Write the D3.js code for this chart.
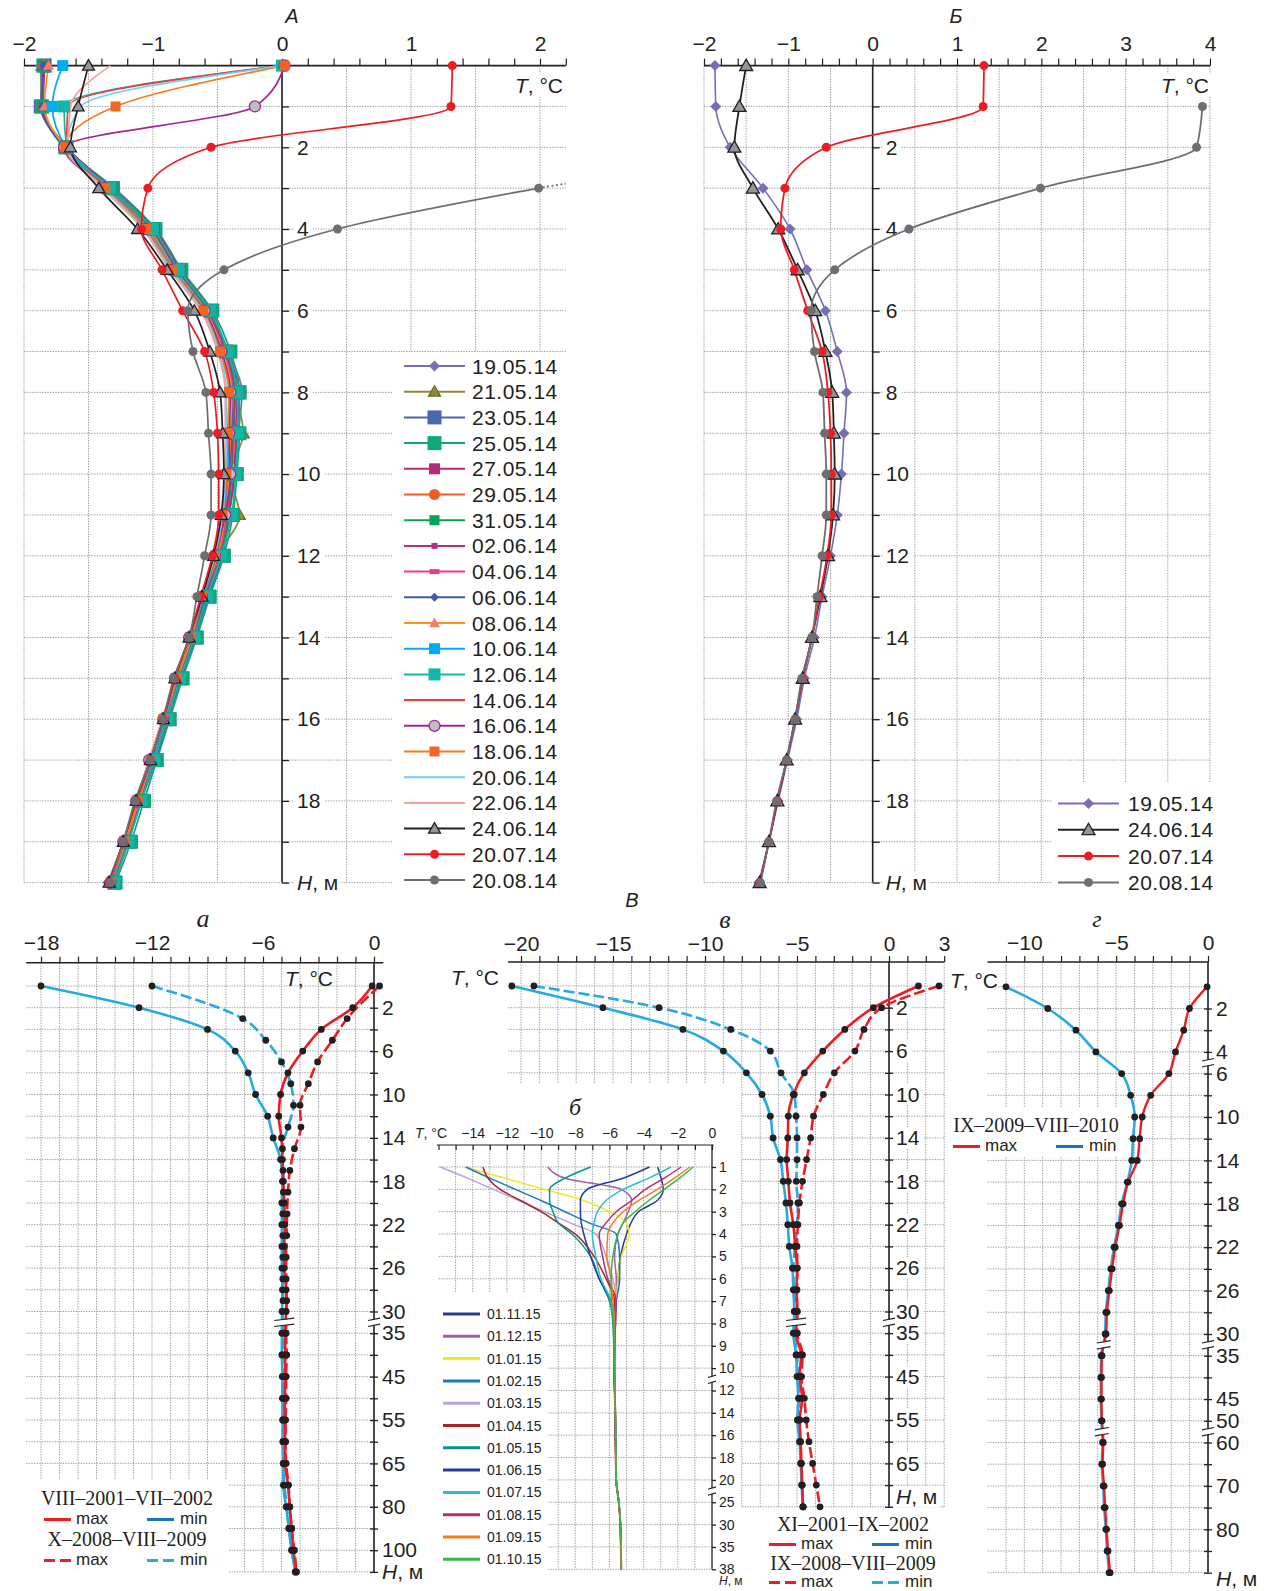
<!DOCTYPE html>
<html>
<head>
<meta charset="utf-8">
<title>Temperature profiles</title>
<script src="https://cdn.jsdelivr.net/npm/d3@7"></script>
<style>
  html, body { margin: 0; padding: 0; background: #fff; }
  svg { display: block; }
</style>
</head>
<body>
<svg id="chart" width="1267" height="1591"></svg>
<script>
'use strict';

// ================= data =================

// --- A / Б : 2014 profiles, depth 0..20 m ---
var DEPTH_A = [0, 1, 2, 3, 4, 5, 6, 7, 8, 9, 10, 11, 12, 13, 14, 15, 16, 17, 18, 19, 20];
var DATES_A = ['19.05.14', '21.05.14', '23.05.14', '25.05.14', '27.05.14', '29.05.14', '31.05.14',
  '02.06.14', '04.06.14', '06.06.14', '08.06.14', '10.06.14', '12.06.14', '14.06.14', '16.06.14',
  '18.06.14', '20.06.14', '22.06.14', '24.06.14', '20.07.14', '20.08.14'];

var T_190514 = [-1.87, -1.86, -1.69, -1.30, -0.98, -0.78, -0.56, -0.42, -0.31, -0.34, -0.37, -0.42, -0.50, -0.60, -0.69, -0.81, -0.90, -1.01, -1.12, -1.23, -1.35];
var T_210514 = [-1.86, -1.87, -1.68, -1.33, -1.00, -0.80, -0.56, -0.43, -0.36, -0.30, -0.40, -0.33, -0.50, -0.59, -0.69, -0.80, -0.89, -0.99, -1.10, -1.20, -1.31];
var T_230514 = [-1.84, -1.87, -1.67, -1.32, -0.99, -0.80, -0.55, -0.43, -0.33, -0.35, -0.37, -0.41, -0.46, -0.57, -0.67, -0.78, -0.88, -0.98, -1.09, -1.19, -1.30];
var T_250514 = [-1.85, -1.86, -1.68, -1.31, -0.98, -0.78, -0.54, -0.40, -0.33, -0.33, -0.35, -0.38, -0.45, -0.56, -0.66, -0.77, -0.87, -0.97, -1.07, -1.17, -1.29];
var T_270514 = [-1.84, -1.85, -1.67, -1.32, -0.99, -0.79, -0.56, -0.42, -0.35, -0.36, -0.37, -0.41, -0.47, -0.58, -0.68, -0.80, -0.89, -0.99, -1.10, -1.20, -1.31];
var T_290514 = [-1.85, -1.86, -1.68, -1.33, -1.01, -0.80, -0.57, -0.44, -0.37, -0.37, -0.39, -0.42, -0.48, -0.59, -0.69, -0.80, -0.90, -1.00, -1.11, -1.21, -1.31];
var T_310514 = [-1.86, -1.86, -1.68, -1.32, -1.00, -0.81, -0.56, -0.43, -0.36, -0.38, -0.39, -0.42, -0.48, -0.58, -0.68, -0.79, -0.89, -0.99, -1.10, -1.20, -1.30];
var T_020614 = [-1.85, -1.86, -1.68, -1.33, -1.01, -0.81, -0.57, -0.44, -0.37, -0.38, -0.40, -0.43, -0.49, -0.59, -0.69, -0.80, -0.90, -1.00, -1.10, -1.20, -1.31];
var T_040614 = [-1.86, -1.85, -1.68, -1.34, -1.02, -0.82, -0.58, -0.45, -0.38, -0.39, -0.40, -0.43, -0.49, -0.60, -0.70, -0.81, -0.90, -1.00, -1.11, -1.21, -1.32];
var T_060614 = [-1.85, -1.86, -1.69, -1.34, -1.02, -0.82, -0.58, -0.46, -0.39, -0.39, -0.41, -0.44, -0.50, -0.60, -0.70, -0.81, -0.91, -1.01, -1.11, -1.21, -1.32];
var T_080614 = [-1.81, -1.84, -1.68, -1.35, -1.03, -0.83, -0.59, -0.46, -0.39, -0.40, -0.41, -0.44, -0.50, -0.61, -0.70, -0.81, -0.91, -1.01, -1.11, -1.21, -1.32];
var T_100614 = [-1.70, -1.78, -1.67, -1.35, -1.04, -0.84, -0.60, -0.47, -0.40, -0.41, -0.42, -0.45, -0.51, -0.61, -0.71, -0.82, -0.91, -1.01, -1.12, -1.22, -1.32];
var T_120614 = [0.00, -1.69, -1.67, -1.33, -1.00, -0.80, -0.56, -0.42, -0.35, -0.34, -0.36, -0.39, -0.47, -0.58, -0.68, -0.79, -0.89, -0.99, -1.09, -1.19, -1.30];
var T_140614 = [0.00, -1.66, -1.67, -1.36, -1.05, -0.85, -0.61, -0.48, -0.41, -0.42, -0.43, -0.45, -0.51, -0.62, -0.71, -0.82, -0.92, -1.02, -1.12, -1.22, -1.33];
var T_160614 = [0.02, -0.21, -1.69, -1.38, -1.06, -0.86, -0.60, -0.47, -0.40, -0.41, -0.40, -0.44, -0.52, -0.62, -0.72, -0.83, -0.92, -1.03, -1.13, -1.23, -1.33];
var T_180614 = [0.02, -1.29, -1.68, -1.37, -1.05, -0.85, -0.61, -0.48, -0.41, -0.42, -0.43, -0.46, -0.52, -0.62, -0.71, -0.82, -0.92, -1.02, -1.12, -1.22, -1.33];
var T_200614 = [0.00, -1.56, -1.67, -1.38, -1.07, -0.86, -0.62, -0.49, -0.43, -0.43, -0.44, -0.46, -0.52, -0.62, -0.72, -0.83, -0.92, -1.03, -1.13, -1.23, -1.33];
var T_220614 = [-1.33, -1.64, -1.66, -1.39, -1.08, -0.87, -0.63, -0.50, -0.44, -0.44, -0.45, -0.47, -0.53, -0.62, -0.72, -0.83, -0.93, -1.03, -1.13, -1.23, -1.34];
var T_240614 = [-1.50, -1.58, -1.64, -1.42, -1.12, -0.89, -0.68, -0.56, -0.48, -0.46, -0.45, -0.47, -0.53, -0.62, -0.72, -0.83, -0.92, -1.02, -1.13, -1.23, -1.34];
var T_200714 = [1.32, 1.31, -0.55, -1.04, -1.09, -0.93, -0.77, -0.60, -0.53, -0.50, -0.49, -0.49, -0.54, -0.63, -0.72, -0.83, -0.92, -1.02, -1.13, -1.23, -1.34];
var T_200814 = [null, 3.91, 3.84, 1.99, 0.43, -0.45, -0.73, -0.69, -0.59, -0.57, -0.55, -0.55, -0.60, -0.66, -0.72, -0.84, -0.92, -1.02, -1.14, -1.23, -1.33];

var TEMPS_A = [T_190514, T_210514, T_230514, T_250514, T_270514, T_290514, T_310514,
  T_020614, T_040614, T_060614, T_080614, T_100614, T_120614, T_140614, T_160614,
  T_180614, T_200614, T_220614, T_240614, T_200714, T_200814];
var DATES_B = ['19.05.14', '24.06.14', '20.07.14', '20.08.14'];
var TEMPS_B = [T_190514, T_240614, T_200714, T_200814];

var LABELS_TA = [-2, -1, 0, 1, 2];
var LABELS_TB = [-2, -1, 0, 1, 2, 3, 4];
var LABELS_DEPTH_A = [2, 4, 6, 8, 10, 12, 14, 16, 18];

// --- а : VIII-2001–VII-2002 (solid) and X-2008–VIII-2009 (dashed) ---
var ROWS_PA = [0, 2, 4, 6, 8, 10, 12, 14, 16, 18, 20, 22, 24, 26, 28, 30, 35, 40, 45, 50, 55, 60, 65, 70, 80, 90, 100, 110];
var LABELS_DEPTH_PA = [2, 6, 10, 14, 18, 22, 26, 30, 35, 45, 55, 65, 80, 100];
var LABELS_T_PA = [-18, -12, -6, 0];
var DEPTH_PA_1 = [0, 2, 4, 6, 8, 10, 12, 14, 16, 18, 20, 22, 24, 26, 28, 30, 35, 40, 45, 50, 55, 60, 65, 70, 80, 90, 100, 110];
var PA_MAX_1 = [-0.1, -1.15, -2.85, -3.85, -4.65, -5.05, -5.15, -5.0, -4.95, -4.9, -4.85, -4.82, -4.85, -4.85, -4.75, -4.75, -4.8, -4.8, -4.8, -4.82, -4.82, -4.8, -4.8, -4.65, -4.55, -4.45, -4.35, -4.2];
var PA_MIN_1 = [-18.0, -12.7, -9.0, -7.5, -6.8, -6.4, -5.75, -5.45, -5.05, -4.95, -4.98, -4.98, -4.98, -4.98, -4.95, -4.97, -4.98, -4.98, -4.95, -4.95, -4.93, -4.92, -4.9, -4.9, -4.75, -4.6, -4.45, -4.25];
var DEPTH_PA_2 = [0, 3, 5, 7, 9, 11, 13, 15, 17, 19, 21, 23, 25, 27, 29, 35, 40, 45, 50, 55, 60, 65, 70, 80, 90, 100, 110];
var PA_MAX_2 = [0.3, -1.45, -2.25, -3.05, -3.55, -4.0, -3.95, -4.3, -4.55, -4.65, -4.7, -4.72, -4.75, -4.75, -4.72, -4.75, -4.72, -4.75, -4.75, -4.78, -4.78, -4.75, -4.62, -4.55, -4.45, -4.3, -4.2];
var PA_MIN_2 = [-12.0, -7.1, -5.85, -5.0, -4.5, -4.35, -4.65, -4.95, -4.92, -4.9, -4.93, -4.93, -4.93, -4.93, -4.92, -4.92, -4.95, -4.95, -4.93, -4.93, -4.92, -4.9, -4.85, -4.7, -4.6, -4.45, -4.25];

// --- в : XI-2001–IX-2002 (solid) and IX-2008–VIII-2009 (dashed) ---
var ROWS_PV = [0, 2, 4, 6, 8, 10, 12, 14, 16, 18, 20, 22, 24, 26, 28, 30, 35, 40, 45, 50, 55, 60, 65, 70, 75];
var LABELS_DEPTH_PV = [2, 6, 10, 14, 18, 22, 26, 30, 35, 45, 55, 65];
var LABELS_T_PV = [-20, -15, -10, -5, 0, 3];
var DEPTH_PV = [0, 2, 4, 6, 8, 10, 12, 14, 16, 18, 20, 22, 24, 26, 28, 30, 35, 40, 45, 50, 55, 60, 65, 70, 75];
var PV_MAX_1 = [1.6, -0.85, -2.4, -3.6, -4.6, -5.2, -5.47, -5.5, -5.56, -5.47, -5.38, -5.2, -5.1, -5.0, -5.02, -4.98, -5.05, -4.78, -4.85, -4.72, -4.85, -4.8, -4.76, -4.72, -4.68];
var PV_MIN_1 = [-20.5, -15.55, -11.2, -9.0, -7.75, -6.9, -6.45, -6.3, -5.9, -5.75, -5.6, -5.5, -5.42, -5.25, -5.2, -5.15, -5.2, -5.05, -5.0, -4.92, -4.98, -4.86, -4.8, -4.75, -4.68];
var PV_MAX_2 = [2.72, -0.4, -1.36, -1.85, -2.97, -3.57, -4.1, -4.26, -4.48, -4.7, -4.87, -4.95, -5.0, -4.98, -5.0, -5.0, -4.98, -4.7, -4.75, -4.6, -4.5, -4.35, -4.15, -3.95, -3.75];
var PV_MIN_2 = [-19.3, -12.5, -8.6, -6.45, -5.87, -5.15, -5.05, -5.0, -5.0, -5.04, -4.95, -5.0, -5.1, -5.2, -5.15, -5.1, -5.12, -5.0, -4.95, -4.88, -4.92, -4.84, -4.78, -4.72, -4.66];

// --- г : IX-2009–VIII-2010 ---
var ROWS_PG = [1, 2, 3, 4, 6, 8, 10, 12, 14, 16, 18, 20, 22, 24, 26, 28, 30, 35, 40, 45, 50, 60, 65, 70, 75, 80, 85, 90];
var LABELS_DEPTH_PG = [2, 4, 6, 10, 14, 18, 22, 26, 30, 35, 45, 50, 60, 70, 80];
var LABELS_T_PG = [-10, -5, 0];
var DEPTH_PG = [1, 2, 3, 4, 6, 8, 10, 12, 14, 16, 18, 20, 22, 24, 26, 28, 30, 35, 40, 45, 50, 60, 65, 70, 75, 80, 85, 90];
var PG_MIN = [-11.0, -8.72, -7.19, -6.1, -4.7, -4.21, -3.99, -4.08, -4.15, -4.39, -4.7, -4.88, -5.11, -5.29, -5.43, -5.56, -5.6, -5.81, -5.83, -5.83, -5.8, -5.74, -5.78, -5.7, -5.65, -5.56, -5.49, -5.38];
var PG_MAX = [-0.05, -1.01, -1.32, -1.77, -2.13, -3.12, -3.58, -3.72, -3.85, -4.35, -4.62, -4.82, -5.05, -5.22, -5.37, -5.5, -5.55, -5.77, -5.8, -5.8, -5.77, -5.7, -5.74, -5.66, -5.6, -5.52, -5.44, -5.33];

// --- б : monthly profiles 2014-15 ---
var ROWS_PB = [1, 2, 3, 4, 5, 6, 7, 8, 9, 10, 12, 14, 16, 18, 20, 25, 30, 35, 38];
var LABELS_T_PB = [-14, -12, -10, -8, -6, -4, -2, 0];
var DATES_PB = ['01.11.15', '01.12.15', '01.01.15', '01.02.15', '01.03.15', '01.04.15',
  '01.05.15', '01.06.15', '01.07.15', '01.08.15', '01.09.15', '01.10.15'];
var DEPTH_PB = [1, 1.5, 2, 2.5, 3, 3.5, 4, 5, 6, 7, 8, 10, 14, 20, 25, 30, 38];
var B_1115 = [-3.18, -2.98, -2.85, -3.2, -4.3, -4.74, -5.0, -5.35, -5.5, -5.6, -5.65, -5.7, -5.65, -5.6, -5.45, -5.35, -5.3];
var B_1215 = [-9.6, -8.6, -5.3, -4.7, -4.9, -5.2, -5.5, -5.7, -5.6, -5.6, -5.65, -5.72, -5.66, -5.6, -5.45, -5.35, -5.32];
var B_0115 = [-14.5, -12.1, -9.8, -7.5, -6.0, -5.0, -4.85, -5.3, -5.5, -5.6, -5.65, -5.7, -5.65, -5.62, -5.45, -5.38, -5.33];
var B_0215 = [-14.4, -13.0, -11.5, -10.0, -8.6, -7.2, -5.6, -5.4, -5.4, -5.6, -5.7, -5.72, -5.66, -5.6, -5.45, -5.35, -5.32];
var B_0315 = [-15.9, -14.3, -12.8, -11.3, -9.8, -8.3, -6.8, -6.2, -5.8, -5.6, -5.65, -5.7, -5.65, -5.6, -5.45, -5.36, -5.32];
var B_0415 = [-13.4, -13.1, -12.4, -11.2, -10.0, -9.0, -8.0, -6.9, -6.2, -5.7, -5.7, -5.72, -5.68, -5.62, -5.47, -5.37, -5.33];
var B_0515 = [-7.1, -8.6, -9.5, -9.5, -9.3, -9.0, -8.2, -7.1, -6.6, -6.0, -5.8, -5.72, -5.66, -5.6, -5.45, -5.36, -5.32];
var B_0615 = [-3.66, -5.2, -7.3, -7.7, -7.7, -7.65, -7.5, -7.1, -6.6, -5.9, -5.7, -5.7, -5.66, -5.6, -5.45, -5.36, -5.32];
var B_0715 = [-2.4, -3.7, -5.2, -6.2, -6.7, -6.9, -7.0, -6.8, -6.5, -5.9, -5.7, -5.7, -5.65, -5.6, -5.44, -5.35, -5.3];
var B_0815 = [-1.8, -2.8, -3.9, -4.7, -5.6, -6.2, -6.6, -6.4, -6.1, -5.6, -5.65, -5.72, -5.66, -5.6, -5.45, -5.36, -5.32];
var B_0915 = [-1.3, -2.2, -3.2, -4.3, -5.2, -5.8, -6.1, -6.15, -5.9, -5.8, -5.7, -5.7, -5.66, -5.6, -5.45, -5.36, -5.32];
var B_1015 = [-1.1, -1.9, -2.8, -3.7, -4.5, -5.2, -5.5, -5.8, -5.9, -5.9, -5.75, -5.7, -5.65, -5.6, -5.45, -5.35, -5.3];
var TEMPS_PB = [B_1115, B_1215, B_0115, B_0215, B_0315, B_0415, B_0515, B_0615, B_0715, B_0815, B_0915, B_1015];

// ================= styles =================
var INK = '#231f20';
var SANS = '"Liberation Sans", Arial, Helvetica, sans-serif';
var SERIF = '"Liberation Serif", "Times New Roman", serif';
var GRID = '#9fa1a4';
var RED = '#ed1c24';
var BLUE = '#27a9e1';
var BLUE_DARK = '#1b75bc';

var STYLE_A = [
  {line: '#7470b3', mark: 'diamond', size: 11, fill: '#7470b3'},
  {line: '#8f8b35', mark: 'triangle', size: 12, fill: '#8f8b3a', edge: '#6b6a2c'},
  {line: '#4c66ae', mark: 'square', size: 14, fill: '#4c66ae'},
  {line: '#10a77c', mark: 'square', size: 14, fill: '#10a77c'},
  {line: '#b8297a', mark: 'square', size: 11, fill: '#b8297a'},
  {line: '#f15a2b', mark: 'circle', size: 11, fill: '#f15a2b'},
  {line: '#00a651', mark: 'square', size: 10, fill: '#00a651'},
  {line: '#b2307e', mark: 'square', size: 6, fill: '#b2307e'},
  {line: '#ee3b8e', mark: 'rect', size: 10, fill: '#ee3b8e'},
  {line: '#3f5caa', mark: 'diamond', size: 9, fill: '#3f5caa'},
  {line: '#f7941d', mark: 'triangle', size: 11, fill: '#f47c6a'},
  {line: '#00aeef', mark: 'square', size: 11, fill: '#00aeef'},
  {line: '#12b5a6', mark: 'square', size: 12, fill: '#12b5a6'},
  {line: '#ef3b36', mark: null},
  {line: '#a4268f', mark: 'circle', size: 11, fill: '#bcbec0', edge: '#a4268f'},
  {line: '#f47b20', mark: 'square', size: 10, fill: '#f26522'},
  {line: '#72cdf4', mark: null},
  {line: '#f4a0a0', mark: null},
  {line: '#231f20', mark: 'triangle', size: 12, fill: '#939598', edge: '#231f20'},
  {line: '#ed1c24', mark: 'circle', size: 9, fill: '#ed1c24'},
  {line: '#6d6e71', mark: 'circle', size: 9, fill: '#6d6e71'}
];
var STYLE_B = [STYLE_A[0], STYLE_A[18], STYLE_A[19], STYLE_A[20]];
var COLORS_PB = ['#2b3990', '#a45fa8', '#f4e81a', '#1f78c1', '#b6a4d8', '#a6262b',
  '#00968f', '#283c97', '#2bbcd4', '#b12f77', '#f47b20', '#39b54a'];

// ================= scales =================
function rowScale(domain, rows, top, step) {
  return d3.scaleLinear().domain(domain).range(rows.map(function(r) { return top + r * step; }));
}

var xA = d3.scaleLinear().domain([-2, 2]).range([24, 540]);
var yA = d3.scaleLinear().domain([0, 20]).range([65.6, 882.6]);
var xB = d3.scaleLinear().domain([-2, 4]).range([704, 1210]);
var yB = yA;

var xPa = d3.scaleLinear().domain([-18, 0]).range([41, 374]);
var yPa = rowScale([0, 30, 35, 70, 110], [0, 15, 16, 23, 27], 986, 21.7);
var xPv = d3.scaleLinear().domain([-20, 0]).range([521, 889]);
var yPv = rowScale([0, 30, 35, 75], [0, 15, 16, 24], 986, 21.7);
var xPg = d3.scaleLinear().domain([-10, 0]).range([1024.3, 1208]);
var yPg = rowScale([1, 4, 6, 30, 35, 50, 60, 90], [0, 3, 4, 16, 17, 20, 21, 27], 986.8, 21.7);
var xPb = d3.scaleLinear().domain([-14, 0]).range([472.7, 712]);
var yPb = rowScale([1, 10, 20, 35, 38], [0, 9, 14, 17, 18], 1167, 22.35);

var svg = d3.select('#chart');

// ================= helpers =================
function fmtT(d) {
  var r = Math.round(d);
  return (r < 0 ? '\u2212' : '') + Math.abs(r);
}

function drawGrid(xs, ys, vx, vy, px0, px1, py0, py1) {
  var g = svg.append('g')
    .attr('stroke', GRID)
    .attr('stroke-width', 1)
    .attr('stroke-dasharray', '1.4,1.2');
  g.selectAll('.gv').data(vx).enter().append('line')
    .attr('x1', function(d) { return xs(d); })
    .attr('x2', function(d) { return xs(d); })
    .attr('y1', py0).attr('y2', py1);
  g.selectAll('.gh').data(vy).enter().append('line')
    .attr('y1', function(d) { return ys(d); })
    .attr('y2', function(d) { return ys(d); })
    .attr('x1', px0).attr('x2', px1);
}

function whiteBox(x, y, w, h) {
  svg.append('rect').attr('x', x).attr('y', y).attr('width', w).attr('height', h).attr('fill', '#fff');
}

function tAxis(xs, y, ticks, labels, ext, opt) {
  var ax = (opt.down ? d3.axisBottom(xs) : d3.axisTop(xs))
    .tickValues(ticks).tickSize(opt.len).tickSizeOuter(0).tickFormat('');
  var g = svg.append('g').attr('transform', 'translate(0,' + y + ')').call(ax);
  g.select('.domain').remove();
  g.selectAll('line').attr('stroke', INK).attr('stroke-width', 1.2);
  g.append('line').attr('x1', ext[0]).attr('x2', ext[1])
    .attr('stroke', INK).attr('stroke-width', opt.lw || 1.6);

  var lab = d3.axisTop(xs).tickValues(labels).tickSize(0).tickPadding(opt.pad).tickFormat(fmtT);
  var gl = svg.append('g').attr('transform', 'translate(0,' + y + ')').call(lab);
  gl.select('.domain').remove();
  gl.attr('font-size', opt.fs).attr('font-family', SANS);
  gl.selectAll('text').attr('fill', INK);
}

function depthAxis(x, ys, ticks, labels, yExt, opt) {
  svg.append('line').attr('x1', x).attr('x2', x).attr('y1', yExt[0]).attr('y2', yExt[1])
    .attr('stroke', INK).attr('stroke-width', opt.lw || 1.6);
  var gr = svg.append('g').attr('transform', 'translate(' + x + ',0)')
    .call(d3.axisRight(ys).tickValues(ticks).tickSize(opt.len).tickSizeOuter(0).tickFormat(''));
  gr.select('.domain').remove();
  gr.selectAll('line').attr('stroke', INK).attr('stroke-width', 1.3);
  if (opt.both) {
    var gL = svg.append('g').attr('transform', 'translate(' + x + ',0)')
      .call(d3.axisLeft(ys).tickValues(ticks).tickSize(opt.len).tickSizeOuter(0).tickFormat(''));
    gL.select('.domain').remove();
    gL.selectAll('line').attr('stroke', INK).attr('stroke-width', 1.3);
  }
  var gl = svg.append('g').attr('transform', 'translate(' + x + ',0)')
    .call(d3.axisRight(ys).tickValues(labels).tickSize(0).tickPadding(opt.pad)
      .tickFormat(function(d) { return d; }));
  gl.select('.domain').remove();
  gl.attr('font-size', opt.fs).attr('font-family', SANS);
  gl.selectAll('text').attr('fill', INK);
  gl.selectAll('.tick').each(function() {
    var b = d3.select(this).select('text').node().getBBox();
    d3.select(this).insert('rect', 'text')
      .attr('x', b.x - 3).attr('y', b.y + 1).attr('width', b.width + 7).attr('height', b.height - 2)
      .attr('fill', '#fff');
  });
  var h = svg.append('text').attr('x', x + opt.pad).attr('y', opt.hy).attr('dy', '0.35em')
    .attr('font-size', opt.hfs || opt.fs).attr('font-family', SANS).attr('fill', INK);
  h.append('tspan').attr('font-style', 'italic').text('H');
  h.append('tspan').text(', м');
  var hb = h.node().getBBox();
  svg.insert('rect', function() { return h.node(); })
    .attr('x', hb.x - 3).attr('y', hb.y + 1).attr('width', hb.width + 6).attr('height', hb.height - 2)
    .attr('fill', '#fff');
}

function tLabel(x, y, fs, bg) {
  var t = svg.append('text').attr('x', x).attr('y', y).attr('text-anchor', 'end')
    .attr('font-size', fs).attr('font-family', SANS).attr('fill', INK);
  t.append('tspan').attr('font-style', 'italic').text('T');
  t.append('tspan').text(', °C');
  if (bg) {
    var b = t.node().getBBox();
    svg.insert('rect', function() { return t.node(); })
      .attr('x', b.x - 3).attr('y', b.y).attr('width', b.width + 6).attr('height', b.height)
      .attr('fill', '#fff');
  }
}

function title(x, y, s, fs, font) {
  svg.append('text').attr('x', x).attr('y', y).attr('text-anchor', 'middle')
    .attr('font-size', fs).attr('font-family', font).attr('font-style', 'italic')
    .attr('fill', INK).text(s);
}

function points(depths, temps) {
  var pts = [];
  depths.forEach(function(d, i) {
    if (temps[i] !== null) pts.push([temps[i], d]);
  });
  return pts;
}

function profile(g, xs, ys, pts, color, width, dash) {
  g.append('path')
    .datum(pts)
    .attr('d', d3.line()
      .x(function(p) { return xs(p[0]); })
      .y(function(p) { return ys(p[1]); })
      .curve(d3.curveMonotoneY))
    .attr('fill', 'none')
    .attr('stroke', color)
    .attr('stroke-width', width)
    .attr('stroke-linejoin', 'round')
    .attr('stroke-dasharray', dash || null);
}

function marker(g, type, x, y, size, fill, edge) {
  var h = size / 2, el;
  if (type === 'circle') {
    el = g.append('circle').attr('cx', x).attr('cy', y).attr('r', h);
  } else if (type === 'square') {
    el = g.append('rect').attr('x', x - h).attr('y', y - h).attr('width', size).attr('height', size);
  } else if (type === 'rect') {
    el = g.append('rect').attr('x', x - h).attr('y', y - h * 0.5).attr('width', size).attr('height', size * 0.5);
  } else if (type === 'diamond') {
    el = g.append('path').attr('d', 'M' + x + ',' + (y - h) + 'L' + (x + h) + ',' + y +
      'L' + x + ',' + (y + h) + 'L' + (x - h) + ',' + y + 'Z');
  } else if (type === 'triangle') {
    el = g.append('path').attr('d', 'M' + x + ',' + (y - h) + 'L' + (x + h) + ',' + (y + h * 0.75) +
      'L' + (x - h) + ',' + (y + h * 0.75) + 'Z');
  } else {
    return;
  }
  el.attr('fill', fill).attr('stroke', edge || 'none').attr('stroke-width', edge ? 1.3 : 0);
}

function dots(g, xs, ys, pts) {
  pts.forEach(function(p) {
    g.append('circle').attr('cx', xs(p[0])).attr('cy', ys(p[1])).attr('r', 3.4).attr('fill', INK);
  });
}

function breakMark(x, y, w) {
  whiteBox(x - w / 2, y - 3, w, 6);
  [-3, 3].forEach(function(o) {
    svg.append('line')
      .attr('x1', x - w / 2).attr('y1', y + o + 1.2)
      .attr('x2', x + w / 2).attr('y2', y + o - 1.2)
      .attr('stroke', INK).attr('stroke-width', 1.1);
  });
}

function seqLegend(x0, y0, step, names, draw, fs) {
  names.forEach(function(name, i) {
    var y = y0 + i * step;
    draw(i, y);
    svg.append('text').attr('x', x0).attr('y', y).attr('dy', '0.36em')
      .attr('font-size', fs).attr('font-family', SANS).attr('fill', INK)
      .attr('letter-spacing', fs > 16 ? 0.5 : 0).text(name);
  });
}

function mmLegend(cx, titleY, rowY, title1, xMax, xMin, dashed) {
  svg.append('text').attr('x', cx).attr('y', titleY).attr('text-anchor', 'middle')
    .attr('font-size', 20).attr('font-family', SERIF).attr('fill', INK).text(title1);
  var dash = dashed ? '11,5' : null;
  svg.append('line').attr('x1', xMax).attr('x2', xMax + 27).attr('y1', rowY).attr('y2', rowY)
    .attr('stroke', RED).attr('stroke-width', 3).attr('stroke-dasharray', dash);
  svg.append('line').attr('x1', xMin).attr('x2', xMin + 27).attr('y1', rowY).attr('y2', rowY)
    .attr('stroke', dashed ? BLUE : BLUE_DARK).attr('stroke-width', 3).attr('stroke-dasharray', dash);
  svg.append('text').attr('x', xMax + 32).attr('y', rowY + 4.5).attr('font-size', 17)
    .attr('font-family', SANS).attr('fill', INK).text('max');
  svg.append('text').attr('x', xMin + 33).attr('y', rowY + 4.5).attr('font-size', 17)
    .attr('font-family', SANS).attr('fill', INK).text('min');
}

// ================= grids =================
drawGrid(xA, yA, d3.range(-2, 2.01, 0.5), d3.range(1, 21), xA(-2), xA(2.2), yA(0), yA(20));
drawGrid(xB, yB, d3.range(-2, 4.01, 0.5), d3.range(1, 21), xB(-2), xB(4), yB(0), yB(20));
drawGrid(xPa, yPa, d3.range(-18, 0), ROWS_PA, xPa(-18.8), xPa(0), 962.7, yPa(110));
drawGrid(xPv, yPv, d3.range(-20, 4).filter(function(d) { return d !== 0; }), ROWS_PV,
  xPv(-20.7), xPv(3), 962, yPv(75));
drawGrid(xPg, yPg, d3.range(-11, 0), ROWS_PG, xPg(-12), xPg(0), 962, yPg(90));

// legend areas and inset б
whiteBox(393, 352, 178, 536);
whiteBox(1052, 782, 163, 108);
whiteBox(22, 1480, 206, 111);
whiteBox(945, 1108, 182, 48);
whiteBox(408, 1083, 333, 508);

drawGrid(xPb, yPb, d3.range(-15, 0), ROWS_PB, xPb(-16), xPb(0), 1145, yPb(38));
whiteBox(432, 1293, 116, 298);

// ================= axes =================
var ticksA = d3.range(0, 22).map(function(i) { return -2 + i * 0.2; });
var ticksB = d3.range(0, 31).map(function(i) { return -2 + i * 0.2; });
tAxis(xA, yA(0), ticksA, LABELS_TA, [xA(-2), xA(2.2)], {len: 7, pad: 14.6, fs: 21});
tAxis(xB, yB(0), ticksB, LABELS_TB, [xB(-2), xB(4)], {len: 7, pad: 14.6, fs: 21});
depthAxis(xA(0), yA, d3.range(1, 21), LABELS_DEPTH_A, [yA(0), yA(20)],
  {len: 7, pad: 15, fs: 21, hy: yA(20)});
depthAxis(xB(0), yB, d3.range(1, 21), LABELS_DEPTH_A, [yB(0), yB(20)],
  {len: 7, pad: 13, fs: 21, hy: yB(20)});
tLabel(563, 93, 21, true);
tLabel(1209, 93, 21, true);

tAxis(xPa, 962.7, d3.range(-18, 1), LABELS_T_PA, [xPa(-18.8), xPa(0.5)], {len: 6, pad: 12.7, fs: 21});
depthAxis(xPa(0), yPa, ROWS_PA.slice(1), LABELS_DEPTH_PA, [962.7, yPa(110)],
  {len: 4, both: true, pad: 8, fs: 21, hy: yPa(110)});
tLabel(333, 986, 21, false);

tAxis(xPv, 962, d3.range(-20, 4), LABELS_T_PV, [xPv(-20.7), xPv(3)], {len: 6, pad: 11.5, fs: 21});
depthAxis(xPv(0), yPv, ROWS_PV.slice(1), LABELS_DEPTH_PV, [962, yPv(75)],
  {len: 4, both: true, pad: 7, fs: 21, hy: 1497});
tLabel(499, 985, 21, false);

tAxis(xPg, 962, d3.range(-11, 1), LABELS_T_PG, [xPg(-12), xPg(0)], {len: 6, pad: 12, fs: 21});
depthAxis(xPg(0), yPg, ROWS_PG.slice(1), LABELS_DEPTH_PG, [962, yPg(90)],
  {len: 4, both: true, pad: 8, fs: 21, hy: 1579});
tLabel(998, 988, 21, false);

tAxis(xPb, 1145, d3.range(-16, 1), LABELS_T_PB, [xPb(-16.1), xPb(0.1)],
  {len: 5, pad: 7, fs: 14, down: true, lw: 1.2});
depthAxis(xPb(0), yPb, ROWS_PB, ROWS_PB, [1145, yPb(38)],
  {len: 4, pad: 7, fs: 14, lw: 1.3, hy: 1581, hfs: 12});
tLabel(447, 1138, 14, false);

// ================= data: A =================
svg.append('clipPath').attr('id', 'clipA').append('rect')
  .attr('x', 10).attr('y', 40).attr('width', xA(2) - 10).attr('height', 860);
svg.append('clipPath').attr('id', 'clipAdot').append('rect')
  .attr('x', xA(2)).attr('y', 40).attr('width', xA(2.2) - xA(2)).attr('height', 860);

var gA = svg.append('g');
var gAl = gA.append('g').attr('clip-path', 'url(#clipA)');
TEMPS_A.forEach(function(temps, i) {
  var st = STYLE_A[i];
  var pts = points(DEPTH_A, temps);
  profile(gAl, xA, yA, pts, st.line, 1.7);
  if (i === TEMPS_A.length - 1) {
    var gd = gA.append('g').attr('clip-path', 'url(#clipAdot)');
    profile(gd, xA, yA, pts, st.line, 1.7, '2,2.5');
  }
});
TEMPS_A.forEach(function(temps, i) {
  var st = STYLE_A[i];
  points(DEPTH_A, temps).forEach(function(p) {
    if (p[0] <= 2.05) marker(gA, st.mark, xA(p[0]), yA(p[1]), st.size, st.fill, st.edge);
  });
});

// ================= data: Б =================
var gB = svg.append('g');
TEMPS_B.forEach(function(temps, i) {
  profile(gB, xB, yB, points(DEPTH_A, temps), STYLE_B[i].line, i === 0 ? 1.6 : 1.8);
});
TEMPS_B.forEach(function(temps, i) {
  var st = STYLE_B[i];
  points(DEPTH_A, temps).forEach(function(p) {
    marker(gB, st.mark, xB(p[0]), yB(p[1]), st.size + (i === 1 ? 1 : 0), st.fill, st.edge);
  });
});

// ================= data: а =================
var gPa = svg.append('g');
var paMin2 = points(DEPTH_PA_2, PA_MIN_2), paMax2 = points(DEPTH_PA_2, PA_MAX_2);
var paMin1 = points(DEPTH_PA_1, PA_MIN_1), paMax1 = points(DEPTH_PA_1, PA_MAX_1);
profile(gPa, xPa, yPa, paMin2, BLUE, 2.6, '11,4');
profile(gPa, xPa, yPa, paMax2, RED, 2.6, '11,4');
profile(gPa, xPa, yPa, paMin1, BLUE, 2.6);
profile(gPa, xPa, yPa, paMax1, RED, 2.6);
[paMin2, paMax2, paMin1, paMax1].forEach(function(p) { dots(gPa, xPa, yPa, p); });

// ================= data: в =================
var gPv = svg.append('g');
var pvMin2 = points(DEPTH_PV, PV_MIN_2), pvMax2 = points(DEPTH_PV, PV_MAX_2);
var pvMin1 = points(DEPTH_PV, PV_MIN_1), pvMax1 = points(DEPTH_PV, PV_MAX_1);
profile(gPv, xPv, yPv, pvMin2, BLUE, 2.6, '11,4');
profile(gPv, xPv, yPv, pvMax2, RED, 2.6, '11,4');
profile(gPv, xPv, yPv, pvMin1, BLUE, 2.6);
profile(gPv, xPv, yPv, pvMax1, RED, 2.6);
[pvMin2, pvMax2, pvMin1, pvMax1].forEach(function(p) { dots(gPv, xPv, yPv, p); });

// ================= data: г =================
var gPg = svg.append('g');
var pgMin = points(DEPTH_PG, PG_MIN), pgMax = points(DEPTH_PG, PG_MAX);
profile(gPg, xPg, yPg, pgMin, BLUE, 2.6);
profile(gPg, xPg, yPg, pgMax, RED, 2.4);
dots(gPg, xPg, yPg, pgMin);
dots(gPg, xPg, yPg, pgMax);

// ================= data: б =================
var gPb = svg.append('g');
TEMPS_PB.forEach(function(temps, i) {
  profile(gPb, xPb, yPb, points(DEPTH_PB, temps), COLORS_PB[i], 1.5);
});

// ================= scale breaks =================
var midA = (yPa(30) + yPa(35)) / 2;
breakMark(xPa(0), midA, 12);
breakMark(xPa(-4.85), midA, 20);
var midV = (yPv(30) + yPv(35)) / 2;
breakMark(xPv(0), midV, 12);
breakMark(xPv(-5.05), midV, 20);
breakMark(xPg(0), (yPg(4) + yPg(6)) / 2, 12);
breakMark(xPg(0), (yPg(30) + yPg(35)) / 2, 12);
breakMark(xPg(0), (yPg(50) + yPg(60)) / 2, 12);
breakMark(xPg(-5.68), (yPg(30) + yPg(35)) / 2, 14);
breakMark(xPg(-5.78), (yPg(50) + yPg(60)) / 2, 14);
breakMark(xPb(0), (yPb(10) + yPb(12)) / 2, 8);
breakMark(xPb(0), (yPb(20) + yPb(25)) / 2, 8);

// ================= legends =================
seqLegend(472, 366, 25.7, DATES_A, function(i, y) {
  var st = STYLE_A[i];
  svg.append('line').attr('x1', 404).attr('x2', 465).attr('y1', y).attr('y2', y)
    .attr('stroke', st.line).attr('stroke-width', 2);
  marker(svg, st.mark, 434.5, y, st.size, st.fill, st.edge);
}, 21);

seqLegend(1128, 803.5, 26.3, DATES_B, function(i, y) {
  var st = STYLE_B[i];
  svg.append('line').attr('x1', 1058).attr('x2', 1119).attr('y1', y).attr('y2', y)
    .attr('stroke', st.line).attr('stroke-width', 2);
  marker(svg, st.mark, 1088.5, y, st.size + (i === 1 ? 1 : 0), st.fill, st.edge);
}, 21);

seqLegend(487, 1314, 22.3, DATES_PB, function(i, y) {
  svg.append('line').attr('x1', 443).attr('x2', 480).attr('y1', y).attr('y2', y)
    .attr('stroke', COLORS_PB[i]).attr('stroke-width', 3);
}, 14);

mmLegend(127, 1505, 1519.5, 'VIII\u20132001\u2013VII\u20132002', 44, 147, false);
mmLegend(127, 1546, 1560.5, 'X\u20132008\u2013VIII\u20132009', 44, 147, true);
mmLegend(853, 1531, 1544.5, 'XI\u20132001\u2013IX\u20132002', 769, 872, false);
mmLegend(853, 1570, 1582.5, 'IX\u20132008\u2013VIII\u20132009', 769, 872, true);
mmLegend(1036, 1132, 1146.5, 'IX\u20132009\u2013VIII\u20132010', 953, 1056, false);

// ================= titles =================
title(292, 23, 'A', 20, SANS);
title(956, 23, 'Б', 20, SANS);
title(632, 907, 'В', 20, SANS);
title(203, 927, 'а', 26, SERIF);
title(575, 1115, 'б', 24, SERIF);
title(725, 928, 'в', 26, SERIF);
title(1097, 927, 'г', 24, SERIF);
</script>
</body>
</html>
